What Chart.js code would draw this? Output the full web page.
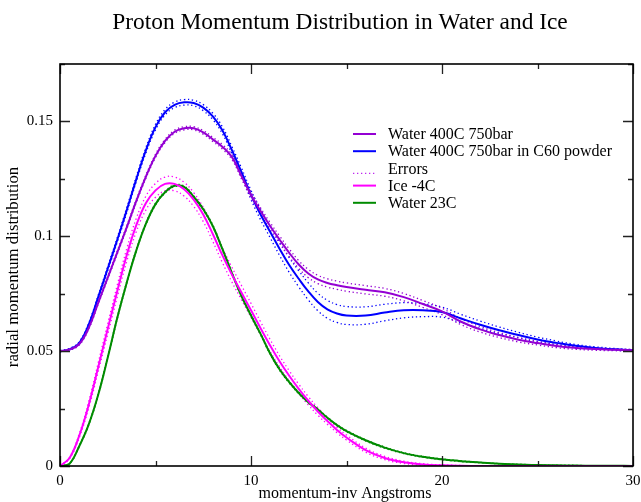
<!DOCTYPE html>
<html><head><meta charset="utf-8">
<script src="https://cdn.jsdelivr.net/npm/chart.js@4.4.1/dist/chart.umd.min.js"></script>
<style>html,body{margin:0;padding:0;background:#fff}</style>
</head><body>
<canvas id="c" width="641" height="502" style="width:641px;height:502px;display:block"></canvas>
<script>
// ---- data ----
const momentum = [0,0.5,1,1.5,2,2.5,3,3.5,4,4.5,5,5.5,6,6.5,7,7.5,8,8.5,9,9.5,10,10.5,11,11.5,12,12.5,13,13.5,14,14.5,15,
  16,17,18,19,20,21,22,23,24,25,26,27,28,29,30];
const water400 = [0.0500,0.0507,0.0530,0.0600,0.0710,0.0820,0.0930,0.1040,0.1155,0.1260,0.1350,0.1415,0.1455,0.1470,0.1470,0.1452,0.1422,0.1390,0.1345,0.1262,0.1180,0.1110,0.1045,0.0985,0.0928,0.0877,0.0838,0.0812,0.0797,0.0787,0.0779,
  0.0767,0.0756,0.0735,0.0705,0.0673,0.0628,0.0595,0.0570,0.0550,0.0535,0.0522,0.0514,0.0509,0.0506,0.0504];
const water400C60 = [0.0500,0.0508,0.0535,0.0615,0.0735,0.0860,0.0985,0.1115,0.1250,0.1375,0.1475,0.1540,0.1572,0.1583,0.1580,0.1560,0.1522,0.1462,0.1375,0.1280,0.1180,0.1095,0.1020,0.0945,0.0875,0.0815,0.0760,0.0714,0.0682,0.0664,0.0655,
  0.0655,0.0668,0.0678,0.0678,0.0670,0.0642,0.0615,0.0591,0.0570,0.0551,0.0536,0.0523,0.0514,0.0508,0.0504];
const ice = [0,0.0035,0.0130,0.0265,0.0430,0.0597,0.0762,0.0920,0.1050,0.1145,0.1200,0.1228,0.1228,0.1205,0.1160,0.1095,0.1010,0.0918,0.0833,0.0755,0.0678,0.0600,0.0525,0.0455,0.0393,0.0336,0.0284,0.0237,0.0196,0.0157,0.0124,
  0.0069,0.0035,0.0016,0.0007,0.0003,0.0001,0,0,0,0,0,0,0,0,0];
const water23 = [0,0.0010,0.0085,0.0180,0.0310,0.0472,0.0645,0.0800,0.0940,0.1055,0.1140,0.1192,0.1220,0.1215,0.1172,0.1118,0.1045,0.0945,0.0840,0.0740,0.0655,0.0575,0.0490,0.0420,0.0365,0.0318,0.0278,0.0246,0.0210,0.0178,0.0152,
  0.0112,0.0080,0.0056,0.0040,0.0029,0.0021,0.0015,0.0010,0.0007,0.0004,0.0003,0.0002,0.0001,0.0001,0];
const water400Err = [0.0002,0.0003,0.0004,0.0005,0.0006,0.0006,0.0007,0.0007,0.0007,0.0007,0.0007,0.0007,0.0007,0.0007,0.0007,0.0008,0.0009,0.0010,0.0011,0.0012,0.0013,0.0014,0.0015,0.0016,0.0017,0.0017,0.0018,0.0018,0.0018,0.0018,0.0018,
  0.0018,0.0017,0.0016,0.0015,0.0014,0.0013,0.0012,0.0011,0.0010,0.0008,0.0007,0.0006,0.0005,0.0004,0.0003];
const water400C60Err = [0.0003,0.0004,0.0005,0.0007,0.0008,0.0009,0.0010,0.0011,0.0011,0.0012,0.0012,0.0012,0.0012,0.0012,0.0012,0.0013,0.0014,0.0015,0.0016,0.0018,0.0020,0.0023,0.0026,0.0029,0.0032,0.0035,0.0037,0.0038,0.0039,0.0039,0.0039,
  0.0038,0.0036,0.0033,0.0028,0.0022,0.0018,0.0016,0.0014,0.0012,0.0010,0.0008,0.0006,0.0005,0.0004,0.0003];
const iceErr = [0,0.0003,0.0008,0.0014,0.0019,0.0023,0.0026,0.0028,0.0029,0.0030,0.0030,0.0030,0.0030,0.0030,0.0030,0.0031,0.0032,0.0032,0.0032,0.0031,0.0030,0.0028,0.0026,0.0024,0.0022,0.0020,0.0018,0.0016,0.0014,0.0012,0.0011,
  0.0009,0.0007,0.0005,0.0003,0.0002,0.0001,0,0,0,0,0,0,0,0,0];
const water23Err = [0,0.0001,0.0002,0.0003,0.0003,0.0004,0.0004,0.0004,0.0004,0.0004,0.0004,0.0004,0.0004,0.0004,0.0004,0.0004,0.0004,0.0004,0.0004,0.0004,0.0004,0.0004,0.0004,0.0004,0.0004,0.0004,0.0004,0.0003,0.0003,0.0003,0.0003,
  0.0003,0.0003,0.0002,0.0002,0.0002,0.0002,0.0001,0.0001,0.0001,0.0001,0.0001,0.0001,0,0,0];
const seriesLabels = ['Water 400C 750bar','Water 400C 750bar in C60 powder','Errors','Ice -4C','Water 23C'];
const titleText = 'Proton Momentum Distribution in Water and Ice';
const xTitle = 'momentum-inv Angstroms';
const yTitle = 'radial momentum distribution';
const xTickLabels = {0:'0',10:'10',20:'20',30:'30'};
const yTickLabels = {0:'0',2:'0.05',4:'0.1',6:'0.15'}; // keyed by multiple of 0.025

// ---- styling ----
const C_PURPLE = 'rgb(148,0,211)', C_BLUE = 'rgb(0,0,255)', C_MAG = 'rgb(255,0,255)', C_GREEN = 'rgb(0,139,0)';
const SERIF = '"Liberation Serif","Times New Roman",Times,serif';

function pts(vals, err, sign) {
  return momentum.map((x, i) => ({x: x, y: err ? vals[i] + sign * err[i] : vals[i]}));
}
function solid(label, vals, color) {
  return {label, data: pts(vals), borderColor: color, borderWidth: 2, pointRadius: 0, fill: false,
    tension: 0.4, order: 0};
}
function dotted(vals, err, sign, color) {
  return {label: '_err', data: pts(vals, err, sign), borderColor: color, borderWidth: 1.3, borderDash: [1.3, 2.7],
    pointRadius: 0, fill: false, tension: 0.4, order: 1};
}
const datasets = [
  solid(seriesLabels[0], water400, C_PURPLE),
  solid(seriesLabels[1], water400C60, C_BLUE),
  solid(seriesLabels[3], ice, C_MAG),
  solid(seriesLabels[4], water23, C_GREEN),
  dotted(water400, water400Err, 1, C_PURPLE), dotted(water400, water400Err, -1, C_PURPLE),
  dotted(water400C60, water400C60Err, 1, C_BLUE), dotted(water400C60, water400C60Err, -1, C_BLUE),
  dotted(ice, iceErr, 1, C_MAG), dotted(ice, iceErr, -1, C_MAG),
  dotted(water23, water23Err, 1, C_GREEN), dotted(water23, water23Err, -1, C_GREEN)
];
const legendItems = [
  {text: seriesLabels[0], color: C_PURPLE, dash: null},
  {text: seriesLabels[1], color: C_BLUE, dash: null},
  {text: seriesLabels[2], color: 'rgb(190,40,240)', dash: [1.3, 2.7]},
  {text: seriesLabels[3], color: C_MAG, dash: null},
  {text: seriesLabels[4], color: C_GREEN, dash: null}
];

const decor = {
  id: 'decor',
  afterDraw(chart) {
    const ctx = chart.ctx, a = chart.chartArea, xs = chart.scales.x, ys = chart.scales.y;
    ctx.save();
    // ticks (inward, all sides)
    ctx.strokeStyle = '#222'; ctx.lineWidth = 1.3;
    xs.ticks.forEach(t => {
      const p = Math.round(xs.getPixelForValue(t.value)) + 0.5;
      const L = (Math.round(t.value) % 10 === 0) ? 10 : 5;
      ctx.beginPath();
      ctx.moveTo(p, a.bottom); ctx.lineTo(p, a.bottom - L);
      ctx.moveTo(p, a.top); ctx.lineTo(p, a.top + L);
      ctx.stroke();
    });
    ys.ticks.forEach(t => {
      const p = Math.round(ys.getPixelForValue(t.value)) + 0.5;
      const L = (Math.round(t.value / 0.025) % 2 === 0) ? 10 : 5;
      ctx.beginPath();
      ctx.moveTo(a.left, p); ctx.lineTo(a.left + L, p);
      ctx.moveTo(a.right, p); ctx.lineTo(a.right - L, p);
      ctx.stroke();
    });
    // frame
    ctx.strokeStyle = '#000'; ctx.lineWidth = 1.6;
    ctx.strokeRect(a.left, a.top, a.right - a.left, a.bottom - a.top);
    // title
    ctx.fillStyle = '#000';
    ctx.textAlign = 'center'; ctx.textBaseline = 'middle';
    ctx.font = '23.4px ' + SERIF;
    ctx.fillText(titleText, 340, 23);
    // axis titles
    ctx.font = '16px ' + SERIF;
    ctx.fillText(xTitle, 345, 494);
    ctx.save();
    ctx.translate(14, 267);
    ctx.rotate(-Math.PI / 2);
    ctx.font = '16.8px ' + SERIF;
    ctx.fillText(yTitle, 0, 0);
    ctx.restore();
    // legend
    ctx.font = '16px ' + SERIF;
    ctx.textAlign = 'left';
    legendItems.forEach((it, i) => {
      const y = 134 + i * 17.2;
      ctx.beginPath();
      ctx.strokeStyle = it.color;
      ctx.lineWidth = it.dash ? 1.3 : 2;
      ctx.setLineDash(it.dash || []);
      const ly = it.dash ? y + 5 : y;
      ctx.moveTo(353, ly); ctx.lineTo(376, ly);
      ctx.stroke();
      ctx.setLineDash([]);
      ctx.fillStyle = '#000';
      ctx.fillText(it.text, 388, y + 1);
    });
    ctx.restore();
  }
};

new Chart(document.getElementById('c'), {
  type: 'line',
  data: {datasets},
  options: {
    responsive: false, animation: false, devicePixelRatio: 1,
    layout: {padding: {left: 0, right: 8, top: 64, bottom: 0}},
    plugins: {legend: {display: false}, title: {display: false}, tooltip: {enabled: false}},
    scales: {
      x: {type: 'linear', min: 0, max: 30,
        grid: {display: false, drawTicks: false}, border: {display: false},
        ticks: {stepSize: 5, padding: 6, color: '#000', maxRotation: 0, autoSkip: false,
          font: {family: SERIF, size: 15},
          callback: v => (xTickLabels[Math.round(v)] !== undefined && Math.abs(v - Math.round(v)) < 1e-9) ? xTickLabels[Math.round(v)] : ''},
        afterFit: s => { s.height = 36; s.paddingLeft = 0; s.paddingRight = 0; }
      },
      y: {type: 'linear', min: 0, max: 0.175,
        grid: {display: false, drawTicks: false}, border: {display: false},
        ticks: {stepSize: 0.025, padding: 7, color: '#000', autoSkip: false,
          font: {family: SERIF, size: 15},
          callback: v => { const k = Math.round(v / 0.025); return yTickLabels[k] !== undefined ? yTickLabels[k] : ''; }},
        afterFit: s => { s.width = 60; s.paddingTop = 0; s.paddingBottom = 0; }
      }
    }
  },
  plugins: [decor]
});
</script>
</body></html>
